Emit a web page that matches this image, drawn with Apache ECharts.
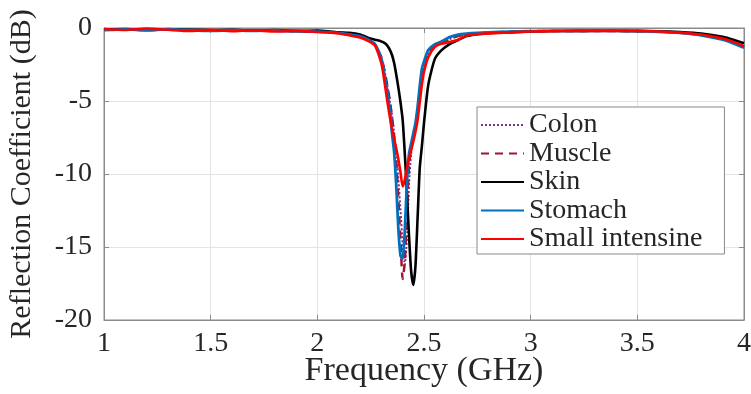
<!DOCTYPE html>
<html>
<head>
<meta charset="utf-8">
<script src="https://cdn.jsdelivr.net/npm/echarts@6/dist/echarts.min.js"></script>
<style>
  html, body { margin: 0; padding: 0; background: #fff; }
  #main { width: 751px; height: 394px; }
</style>
</head>
<body>
<div id="main"></div>
<script>
// frequency grid (GHz), denser around the resonance
const freq = [1.0, 1.1, 1.2, 1.3, 1.4, 1.5, 1.6, 1.7, 1.8, 1.9, 2.0, 2.05, 2.1, 2.15, 2.2, 2.24, 2.27,
  2.30, 2.31, 2.32, 2.33, 2.34, 2.35, 2.36, 2.37, 2.38, 2.39, 2.40, 2.41, 2.42, 2.43, 2.44, 2.45, 2.46,
  2.47, 2.48, 2.49, 2.50, 2.52, 2.55, 2.58, 2.62, 2.66, 2.70, 2.75, 2.80, 2.9, 3.0, 3.1, 3.2, 3.3, 3.4,
  3.5, 3.6, 3.7, 3.8, 3.9, 3.95, 4.0];

const colon = [-0.12, -0.12, -0.1, -0.12, -0.14, -0.17, -0.15, -0.18, -0.18, -0.21, -0.24, -0.28, -0.34, -0.45, -0.58, -0.85, -1.15,
  -2.0, -2.6, -3.3, -4.1, -5.0, -6.0, -7.2, -8.6, -10.4, -12.5, -14.8, -16.2, -14.4, -10.6, -8.6, -7.6, -6.8,
  -5.8, -4.6, -3.4, -2.7, -1.7, -1.2, -1.0, -0.75, -0.55, -0.42, -0.36, -0.32, -0.26, -0.22, -0.2, -0.2, -0.2, -0.2,
  -0.22, -0.25, -0.33, -0.47, -0.75, -1.0, -1.3];

const muscle = [-0.12, -0.12, -0.1, -0.12, -0.14, -0.17, -0.15, -0.18, -0.18, -0.21, -0.24, -0.28, -0.34, -0.45, -0.58, -0.85, -1.15,
  -2.0, -2.6, -3.3, -4.1, -5.0, -6.1, -7.4, -9.2, -11.8, -14.6, -17.2, -16.0, -12.4, -9.4, -8.2, -7.4, -6.7,
  -5.7, -4.4, -3.2, -2.5, -1.65, -1.2, -1.0, -0.75, -0.55, -0.42, -0.36, -0.32, -0.26, -0.22, -0.2, -0.2, -0.2, -0.2,
  -0.22, -0.25, -0.33, -0.47, -0.75, -1.0, -1.3];

const skin = [-0.1, -0.08, -0.14, -0.1, -0.12, -0.15, -0.12, -0.18, -0.14, -0.2, -0.18, -0.22, -0.3, -0.33, -0.45, -0.68, -0.8,
  -0.92, -0.98, -1.08, -1.25, -1.5, -1.85, -2.4, -3.2, -4.1, -5.1, -6.3, -8.6, -11.3, -14.3, -16.7, -17.6, -16.3,
  -13.0, -9.6, -8.1, -6.5, -3.9, -2.15, -1.55, -1.1, -0.82, -0.55, -0.42, -0.36, -0.3, -0.24, -0.21, -0.2, -0.19, -0.19,
  -0.2, -0.22, -0.28, -0.38, -0.6, -0.8, -1.05];

const stomach = [-0.15, -0.1, -0.16, -0.08, -0.15, -0.2, -0.14, -0.2, -0.17, -0.23, -0.25, -0.28, -0.33, -0.43, -0.55, -0.8, -1.1,
  -2.1, -2.8, -3.7, -4.6, -5.6, -7.2, -8.5, -10.8, -13.8, -15.6, -15.8, -13.9, -10.6, -8.6, -7.9, -7.2, -6.5,
  -5.4, -4.0, -2.8, -2.3, -1.5, -1.12, -0.95, -0.62, -0.45, -0.38, -0.33, -0.3, -0.25, -0.22, -0.2, -0.2, -0.2, -0.2,
  -0.22, -0.26, -0.34, -0.5, -0.8, -1.05, -1.35];

const smallIntestine = [-0.07, -0.14, -0.04, -0.12, -0.2, -0.13, -0.22, -0.15, -0.24, -0.2, -0.27, -0.31, -0.38, -0.5, -0.65, -0.9, -1.2,
  -2.4, -3.2, -4.2, -5.2, -6.1, -6.9, -7.6, -8.25, -9.0, -9.9, -10.85, -10.4, -9.6, -8.9, -8.35, -7.75, -7.1,
  -6.3, -5.1, -3.9, -3.0, -2.0, -1.3, -1.08, -0.96, -0.8, -0.52, -0.42, -0.37, -0.3, -0.24, -0.22, -0.2, -0.2, -0.2,
  -0.21, -0.24, -0.32, -0.45, -0.72, -0.95, -1.25];

const xTicks = [1, 1.5, 2, 2.5, 3, 3.5, 4];
const yTicks = [-20, -15, -10, -5, 0];

const font = "'Liberation Serif', 'Times New Roman', serif";
const textColor = "#262626";
const axisColor = "#8a8a8a";

function pairs(values) {
  return freq.map((f, i) => [f, values[i]]);
}

function makeSeries(name, values, color, width, type) {
  return {
    name: name,
    type: "line",
    data: pairs(values),
    showSymbol: false,
    symbol: "none",
    smooth: 0.2,
    lineStyle: { color: color, width: width, type: type },
    itemStyle: { color: color },
    xAxisIndex: 0,
    yAxisIndex: 0,
  };
}

const myChart = echarts.init(document.getElementById("main"));

const option = {
  animation: false,
  backgroundColor: "#fff",
  grid: {
    left: 104,
    right: 7,
    top: 28,
    bottom: 74,
    outerBoundsMode: "none",
    show: true,
    borderColor: axisColor,
    borderWidth: 1,
  },
  legend: {
    orient: "vertical",
    left: 477,
    top: 107,
    padding: [4, 22, 1, 3],
    itemGap: 0.5,
    itemWidth: 43,
    itemHeight: 2,
    itemStyle: { opacity: 0 },
    backgroundColor: "#fff",
    borderColor: axisColor,
    borderWidth: 1,
    borderRadius: 0,
    textStyle: { fontFamily: font, fontSize: 28, lineHeight: 28, color: textColor },
    data: ["Colon", "Muscle", "Skin", "Stomach", "Small intensine"],
  },
  xAxis: [
    {
      type: "value",
      min: xTicks[0],
      max: xTicks[xTicks.length - 1],
      interval: 0.5,
      name: "Frequency (GHz)",
      nameLocation: "middle",
      nameGap: 34,
      nameMoveOverlap: false,
      nameTextStyle: { fontFamily: font, fontSize: 34, color: textColor },
      axisLine: { show: true, onZero: false, lineStyle: { color: axisColor } },
      axisTick: { show: true, inside: true, length: 5, lineStyle: { color: axisColor } },
      axisLabel: { fontFamily: font, fontSize: 28, color: textColor, margin: 10 },
      splitLine: { show: true, lineStyle: { color: "#e4e4e4" } },
    },
    {
      type: "value",
      position: "top",
      min: xTicks[0],
      max: xTicks[xTicks.length - 1],
      interval: 0.5,
      axisLine: { show: true, lineStyle: { color: axisColor } },
      axisTick: { show: true, inside: true, length: 5, lineStyle: { color: axisColor } },
      axisLabel: { show: false },
      splitLine: { show: false },
    },
  ],
  yAxis: [
    {
      type: "value",
      min: yTicks[0],
      max: yTicks[yTicks.length - 1],
      interval: 5,
      name: "Reflection Coefficient (dB)",
      nameLocation: "middle",
      nameGap: 67,
      nameMoveOverlap: false,
      nameTextStyle: { fontFamily: font, fontSize: 30, color: textColor },
      axisLine: { show: true, onZero: false, lineStyle: { color: axisColor } },
      axisTick: { show: true, inside: true, length: 5, lineStyle: { color: axisColor } },
      axisLabel: { fontFamily: font, fontSize: 28, color: textColor, margin: 12 },
      splitLine: { show: true, lineStyle: { color: "#e4e4e4" } },
    },
    {
      type: "value",
      position: "right",
      min: yTicks[0],
      max: yTicks[yTicks.length - 1],
      interval: 5,
      axisLine: { show: true, lineStyle: { color: axisColor } },
      axisTick: { show: true, inside: true, length: 5, lineStyle: { color: axisColor } },
      axisLabel: { show: false },
      splitLine: { show: false },
    },
  ],
  series: [
    makeSeries("Colon", colon, "#7E2F8E", 2, "dotted"),
    makeSeries("Muscle", muscle, "#A2142F", 2.5, [8, 6]),
    makeSeries("Skin", skin, "#000000", 2.6, "solid"),
    makeSeries("Stomach", stomach, "#0072BD", 2.8, "solid"),
    makeSeries("Small intensine", smallIntestine, "#FF0000", 2.6, "solid"),
  ],
};

myChart.setOption(option);
</script>
</body>
</html>
